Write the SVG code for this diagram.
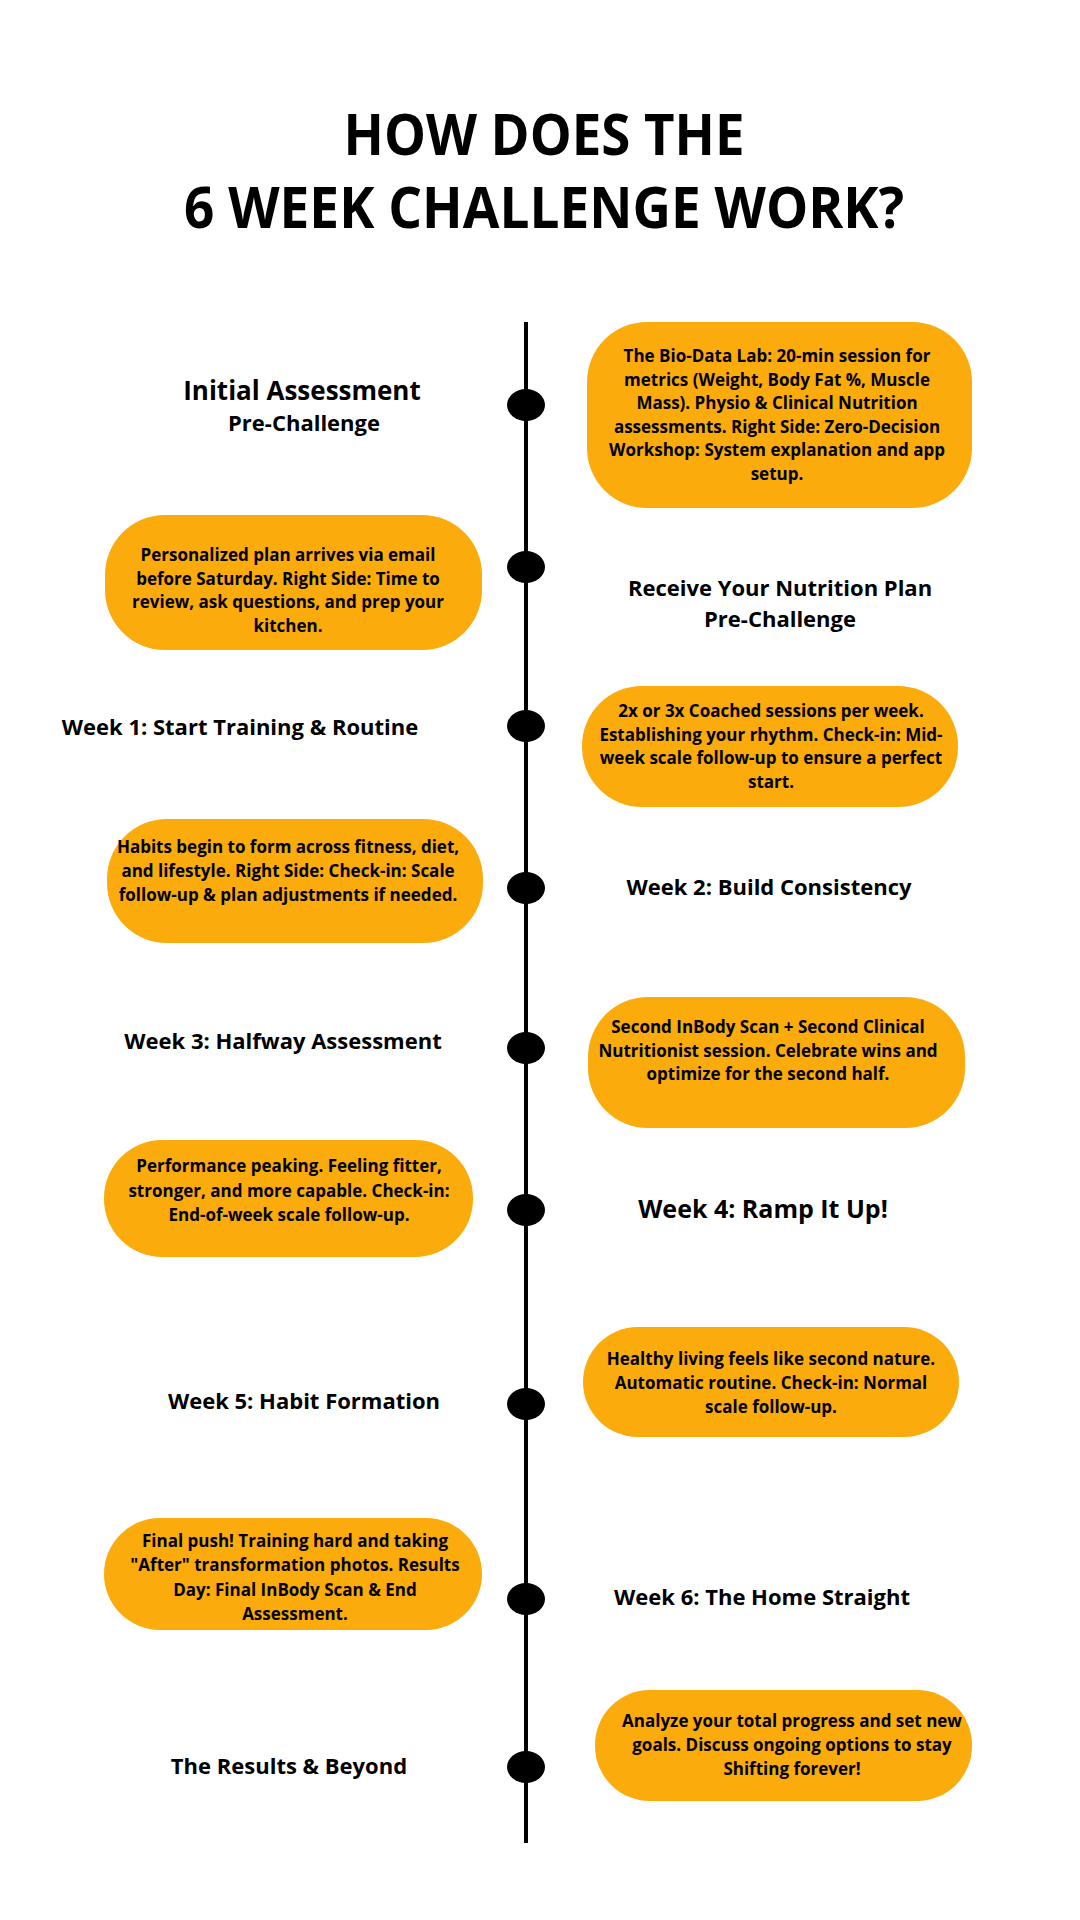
<svg xmlns="http://www.w3.org/2000/svg" width="1080" height="1920" viewBox="0 0 1080 1920">
<style>
.title{font-family:"Open Sans","Liberation Sans",sans-serif;font-weight:700;font-size:58px;fill:#000;text-anchor:middle}
.box{fill:#FBAB0B}
.bt{font-family:"Open Sans","Liberation Sans",sans-serif;font-weight:700;font-size:17px;fill:#000;text-anchor:middle}
.lbl{font-family:"Open Sans","Liberation Sans",sans-serif;font-weight:700;font-size:22px;fill:#000;text-anchor:middle}
.dot{fill:#000}
</style>
<rect width="1080" height="1920" fill="#fff"/>
<g id="title">
<text class="title" x="544" y="155" textLength="401" lengthAdjust="spacingAndGlyphs">HOW DOES THE</text>
<text class="title" x="544" y="228" textLength="720" lengthAdjust="spacingAndGlyphs">6 WEEK CHALLENGE WORK?</text>
</g>
<g id="connectors">
<line x1="526" y1="322" x2="526" y2="1843" stroke="#000" stroke-width="4"/>
</g>
<g id="node1">
<ellipse class="dot" cx="526" cy="405" rx="19" ry="16"/>
<text class="lbl" x="302" y="400" style="font-size:26px">Initial Assessment</text>
<text class="lbl" x="304" y="431">Pre-Challenge</text>
<rect class="box" x="587" y="322" width="385" height="186" rx="60"/>
<text class="bt" x="777" y="362">The Bio-Data Lab: 20-min session for</text>
<text class="bt" x="777" y="385.6">metrics (Weight, Body Fat %, Muscle</text>
<text class="bt" x="777" y="409.2">Mass). Physio &amp; Clinical Nutrition</text>
<text class="bt" x="777" y="432.8">assessments. Right Side: Zero-Decision</text>
<text class="bt" x="777" y="456.4">Workshop: System explanation and app</text>
<text class="bt" x="777" y="480">setup.</text>
</g>
<g id="node2">
<ellipse class="dot" cx="526" cy="567" rx="19" ry="16"/>
<rect class="box" x="105" y="515" width="377" height="135" rx="60"/>
<text class="bt" x="288" y="561">Personalized plan arrives via email</text>
<text class="bt" x="288" y="584.6">before Saturday. Right Side: Time to</text>
<text class="bt" x="288" y="608.2">review, ask questions, and prep your</text>
<text class="bt" x="288" y="631.8">kitchen.</text>
<text class="lbl" x="780" y="596">Receive Your Nutrition Plan</text>
<text class="lbl" x="780" y="627">Pre-Challenge</text>
</g>
<g id="node3">
<ellipse class="dot" cx="526" cy="726" rx="19" ry="16"/>
<text class="lbl" x="240" y="735">Week 1: Start Training &amp; Routine</text>
<rect class="box" x="582" y="686" width="376" height="121" rx="60"/>
<text class="bt" x="771" y="717">2x or 3x Coached sessions per week.</text>
<text class="bt" x="771" y="740.6">Establishing your rhythm. Check-in: Mid-</text>
<text class="bt" x="771" y="764.2">week scale follow-up to ensure a perfect</text>
<text class="bt" x="771" y="787.8">start.</text>
</g>
<g id="node4">
<ellipse class="dot" cx="526" cy="888" rx="19" ry="16"/>
<rect class="box" x="107" y="819" width="376" height="124" rx="60"/>
<text class="bt" x="288" y="853">Habits begin to form across fitness, diet,</text>
<text class="bt" x="288" y="877">and lifestyle. Right Side: Check-in: Scale</text>
<text class="bt" x="288" y="901">follow-up &amp; plan adjustments if needed.</text>
<text class="lbl" x="769" y="895">Week 2: Build Consistency</text>
</g>
<g id="node5">
<ellipse class="dot" cx="526" cy="1048" rx="19" ry="16"/>
<text class="lbl" x="283" y="1049">Week 3: Halfway Assessment</text>
<rect class="box" x="588" y="997" width="377" height="131" rx="60"/>
<text class="bt" x="768" y="1033">Second InBody Scan + Second Clinical</text>
<text class="bt" x="768" y="1056.5">Nutritionist session. Celebrate wins and</text>
<text class="bt" x="768" y="1080">optimize for the second half.</text>
</g>
<g id="node6">
<ellipse class="dot" cx="526" cy="1210" rx="19" ry="16"/>
<rect class="box" x="104" y="1140" width="369" height="117" rx="58"/>
<text class="bt" x="289" y="1172">Performance peaking. Feeling fitter,</text>
<text class="bt" x="289" y="1196.5">stronger, and more capable. Check-in:</text>
<text class="bt" x="289" y="1221">End-of-week scale follow-up.</text>
<text class="lbl" x="763" y="1218" style="font-size:25px">Week 4: Ramp It Up!</text>
</g>
<g id="node7">
<ellipse class="dot" cx="526" cy="1404" rx="19" ry="16"/>
<text class="lbl" x="304" y="1409">Week 5: Habit Formation</text>
<rect class="box" x="583" y="1327" width="376" height="110" rx="55"/>
<text class="bt" x="771" y="1365">Healthy living feels like second nature.</text>
<text class="bt" x="771" y="1389">Automatic routine. Check-in: Normal</text>
<text class="bt" x="771" y="1413">scale follow-up.</text>
</g>
<g id="node8">
<ellipse class="dot" cx="526" cy="1599" rx="19" ry="16"/>
<rect class="box" x="104" y="1518" width="378" height="112" rx="56"/>
<text class="bt" x="295" y="1547">Final push! Training hard and taking</text>
<text class="bt" x="295" y="1571.3">"After" transformation photos. Results</text>
<text class="bt" x="295" y="1595.6">Day: Final InBody Scan &amp; End</text>
<text class="bt" x="295" y="1620">Assessment.</text>
<text class="lbl" x="762" y="1605">Week 6: The Home Straight</text>
</g>
<g id="node9">
<ellipse class="dot" cx="526" cy="1767" rx="19" ry="16"/>
<text class="lbl" x="289" y="1774">The Results &amp; Beyond</text>
<rect class="box" x="595" y="1690" width="377" height="111" rx="55"/>
<text class="bt" x="792" y="1727">Analyze your total progress and set new</text>
<text class="bt" x="792" y="1751">goals. Discuss ongoing options to stay</text>
<text class="bt" x="792" y="1775">Shifting forever!</text>
</g>
</svg>
